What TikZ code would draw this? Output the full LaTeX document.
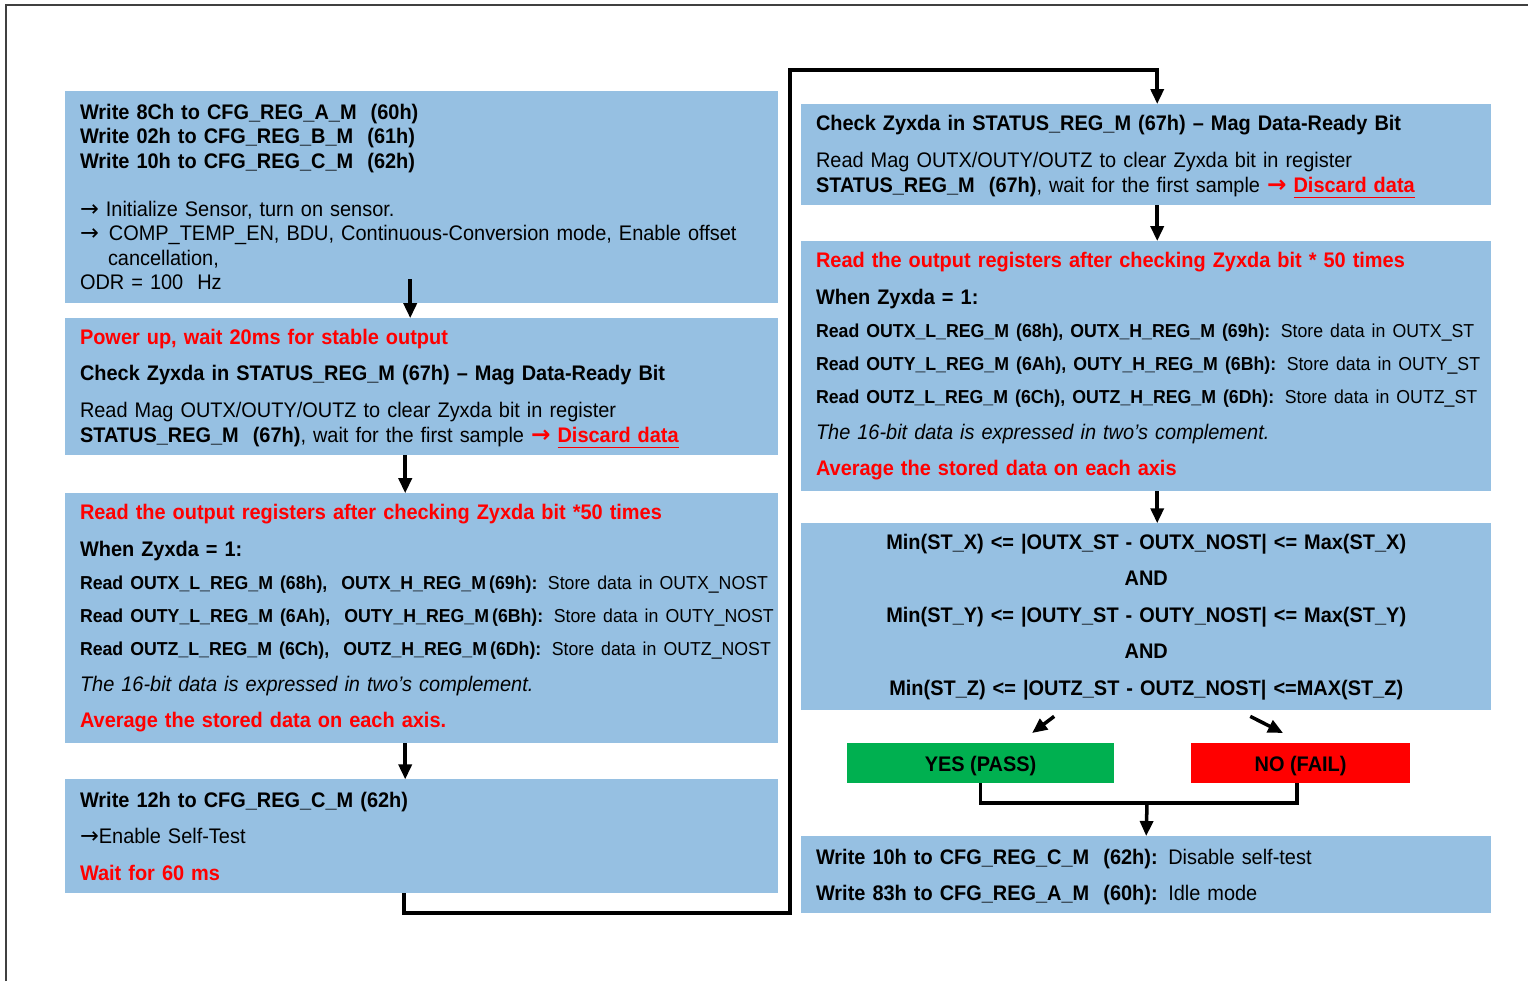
\documentclass[tikz,border=0pt]{standalone}
\usepackage{fontspec}
\setmainfont{Liberation Sans}[FakeStretch=0.945]
\newfontfamily\arrowfont{DejaVu Sans}
\usetikzlibrary{arrows.meta}
\usetikzlibrary{positioning}

\definecolor{boxblue}{RGB}{150,192,226}
\definecolor{passgreen}{RGB}{0,176,80}
\newcommand{\mainsz}{\fontsize{6.0pt}{0.245cm}\selectfont}
\newcommand{\regsz}{\fontsize{5.33pt}{0.245cm}\selectfont}
\newcommand{\ra}{{\arrowfont\fontsize{6.4pt}{0.245cm}\selectfont →}}
\newcommand{\discard}{{\color{red}\bfseries{\arrowfont\fontsize{6.6pt}{0.245cm}\selectfont →}~\underline{Discard data}}}
\newcommand{\regline}[2]{\mbox{\regsz\bfseries #1 \mdseries #2}}
\newcommand{\lowtop}{\rule{0pt}{0.21cm}}

\begin{document}
\begin{tikzpicture}[x=0.01cm,y=-0.01cm,->,>={Triangle[length=0.15cm,width=0.13cm]},line width=1pt]
  \tikzset{stepbox/.style={rectangle,fill=boxblue,inner xsep=0.15cm,inner ysep=0pt,outer sep=0pt,
      anchor=north west,align=left,font=\mainsz},
    leftbox/.style={stepbox,minimum width=7.13cm,text width=6.83cm},
    rightbox/.style={stepbox,minimum width=6.90cm,text width=6.60cm},
    verdict/.style={rectangle,inner sep=0pt,outer sep=0pt,anchor=north west,minimum height=0.40cm,
      font=\mainsz\bfseries}}

  \useasboundingbox (0,0) rectangle (1528,981);
  \draw[-,line width=0.6pt,black!75] (6,981) -- (6,5) -- (1528,5);

  % left column
  \node[leftbox,minimum height=2.12cm] (init) at (65,91)
    {{\bfseries Write 8Ch to CFG\_REG\_A\_M~ (60h)\\
      Write 02h to CFG\_REG\_B\_M~ (61h)\\
      Write 10h to CFG\_REG\_C\_M~ (62h)}\\[0.235cm]
     \ra\ Initialize Sensor, turn on sensor.\\
     \ra\hspace{0.1cm}COMP\_TEMP\_EN, BDU, Continuous-Conversion mode, Enable offset\\
     \hspace*{0.28cm}cancellation,\\
     ODR = 100~ Hz};
  \node[leftbox,minimum height=1.37cm,below=0.15cm of init.south west,anchor=north west] (power)
    {\lowtop{\color{red}\bfseries Power up, wait 20ms for stable output}\\[0.115cm]
     {\bfseries Check Zyxda in STATUS\_REG\_M (67h) – Mag Data-Ready Bit}\\[0.125cm]
     Read Mag OUTX/OUTY/OUTZ to clear Zyxda bit in register\\
     {\bfseries STATUS\_REG\_M~ (67h)}, wait for the first sample \discard};
  \node[leftbox,minimum height=2.50cm,below=0.38cm of power.south west,anchor=north west] (nost)
    {{\color{red}\bfseries Read the output registers after checking Zyxda bit *50 times}\\[0.125cm]
     {\bfseries When Zyxda = 1:}\\[0.085cm]
     \regline{Read OUTX\_L\_REG\_M (68h),~ OUTX\_H\_REG\_M\,(69h):}{Store data in OUTX\_NOST}\\[0.085cm]
     \regline{Read OUTY\_L\_REG\_M (6Ah),~ OUTY\_H\_REG\_M\,(6Bh):}{Store data in OUTY\_NOST}\\[0.085cm]
     \regline{Read OUTZ\_L\_REG\_M (6Ch),~ OUTZ\_H\_REG\_M\,(6Dh):}{Store data in OUTZ\_NOST}\\[0.115cm]
     {\itshape The 16-bit data is expressed in two’s complement.}\\[0.115cm]
     {\color{red}\bfseries Average the stored data on each axis.}};
  \node[leftbox,minimum height=1.14cm,below=0.36cm of nost.south west,anchor=north west] (selftest)
    {{\bfseries Write 12h to CFG\_REG\_C\_M (62h)}\\[0.115cm]
     \ra Enable Self-Test\\[0.115cm]
     {\color{red}\bfseries Wait for 60 ms}};

  % right column
  \node[rightbox,minimum height=1.01cm] (check) at (801,104)
    {\lowtop{\bfseries Check Zyxda in STATUS\_REG\_M (67h) – Mag Data-Ready Bit}\\[0.125cm]
     Read Mag OUTX/OUTY/OUTZ to clear Zyxda bit in register\\
     {\bfseries STATUS\_REG\_M~ (67h)}, wait for the first sample \discard};
  \node[rightbox,minimum height=2.50cm,below=0.36cm of check.south west,anchor=north west] (st)
    {{\color{red}\bfseries Read the output registers after checking Zyxda bit * 50 times}\\[0.125cm]
     {\bfseries When Zyxda = 1:}\\[0.085cm]
     \regline{Read OUTX\_L\_REG\_M (68h), OUTX\_H\_REG\_M (69h):}{Store data in OUTX\_ST}\\[0.085cm]
     \regline{Read OUTY\_L\_REG\_M (6Ah), OUTY\_H\_REG\_M (6Bh):}{Store data in OUTY\_ST}\\[0.085cm]
     \regline{Read OUTZ\_L\_REG\_M (6Ch), OUTZ\_H\_REG\_M (6Dh):}{Store data in OUTZ\_ST}\\[0.115cm]
     {\itshape The 16-bit data is expressed in two’s complement.}\\[0.115cm]
     {\color{red}\bfseries Average the stored data on each axis}};
  \node[rightbox,minimum height=1.87cm,align=center,below=0.32cm of st.south west,anchor=north west] (compare)
    {{\bfseries Min(ST\_X) <= |OUTX\_ST - OUTX\_NOST| <= Max(ST\_X)\\[0.12cm]
      AND\\[0.12cm]
      Min(ST\_Y) <= |OUTY\_ST - OUTY\_NOST| <= Max(ST\_Y)\\[0.12cm]
      AND\\[0.12cm]
      Min(ST\_Z) <= |OUTZ\_ST - OUTZ\_NOST| <=MAX(ST\_Z)}};
  \node[verdict,fill=passgreen,minimum width=2.67cm] (pass) at (847,743) {\lowtop YES (PASS)};
  \node[verdict,fill=red,minimum width=2.19cm] (fail) at (1191,743) {\lowtop NO (FAIL)};
  \node[rightbox,minimum height=0.77cm] (idle) at (801,836)
    {\lowtop{\bfseries Write 10h to CFG\_REG\_C\_M~ (62h):} Disable self-test\\[0.115cm]
     {\bfseries Write 83h to CFG\_REG\_A\_M~ (60h):} Idle mode};

  \coordinate (loopB) at (790,913);
  \coordinate (loopT) at (790,70);
  \coordinate (join) at (1147,803);

  \draw ([xshift=-0.115cm,yshift=0.24cm]init.south) -- ([xshift=-0.115cm]power.north);
  \draw ([xshift=-0.165cm]power.south) -- ([xshift=-0.165cm]nost.north);
  \draw ([xshift=-0.165cm]nost.south) -- ([xshift=-0.165cm]selftest.north);
  \draw ([xshift=-0.175cm]selftest.south) |- (loopB) -- (loopT) -| ([xshift=0.11cm]check.north);
  \draw ([xshift=0.11cm]check.south) -- ([xshift=0.11cm]st.north);
  \draw ([xshift=0.11cm]st.south) -- ([xshift=0.11cm]compare.north);
  \draw ([xshift=-0.92cm,yshift=-0.06cm]compare.south) -- ([xshift=0.515cm,yshift=0.10cm]pass.north);
  \draw ([xshift=1.04cm,yshift=-0.06cm]compare.south) -- ([xshift=-0.175cm,yshift=0.10cm]fail.north);
  \draw[-] (pass.south) |- (join) -| ([xshift=-0.035cm]fail.south);
  \draw (join) -- (idle.north);
\end{tikzpicture}
\end{document}
